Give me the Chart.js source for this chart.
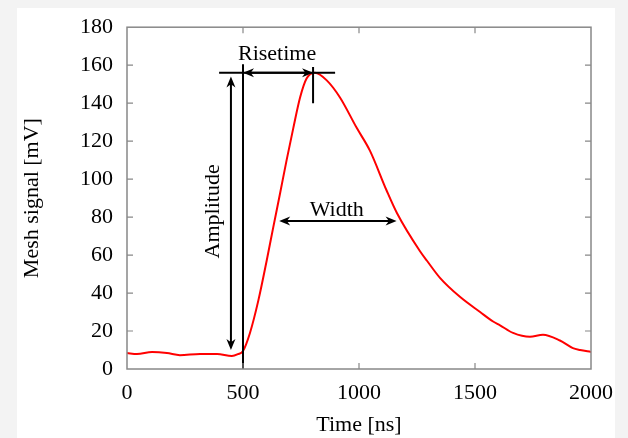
<!DOCTYPE html>
<html>
<head>
<meta charset="utf-8">
<script src="https://cdn.jsdelivr.net/npm/chart.js@4"></script>
<style>
  html, body { margin: 0; padding: 0; background: #fff; }
  #wrap { width: 628px; height: 438px; }
</style>
</head>
<body>
<div id="wrap"><canvas id="signalChart" width="628" height="438"></canvas></div>
<script>
// pulse
const timeNs = [0, 43, 108, 172, 228, 315, 388, 452, 478, 500, 530, 566, 602, 631, 659, 688, 717, 746, 774, 810, 861, 918, 990, 1047, 1119, 1164, 1263, 1293, 1349, 1435, 1522, 1578, 1608, 1664, 1737, 1793, 1866, 1922, 1953, 2000];
const signalMv = [8.4, 7.9, 8.9, 8.4, 7.3, 7.9, 7.9, 6.8, 7.8, 9.5, 19, 36, 57, 75, 92, 110, 127, 143, 153, 156, 152, 143, 127, 115, 94, 82, 62, 57, 48, 38, 30, 25, 23, 19, 17, 18, 15, 11, 10, 9];

const xTicks = [0, 500, 1000, 1500, 2000];
const yTicks = [0, 20, 40, 60, 80, 100, 120, 140, 160, 180];

// annotation geometry, in data units [ns, mV]
const startLine = [500, 0, 160.5];          // x, yFrom, yTo
const peakLine = [397, 897, 156];           // xFrom, xTo, y
const peakTick = [802, 159, 140];           // x, yFrom, yTo
const amplitudeArrow = [448, 10, 154];      // x, yFrom, yTo
const risetimeArrow = [500, 802, 156];      // xFrom, xTo, y
const widthArrow = [656, 1162, 78];         // xFrom, xTo, y
const labels = [
  { text: "Risetime", x: 647, y: 166, rot: 0 },
  { text: "Width", x: 904, y: 83.5, rot: 0 },
  { text: "Amplitude", x: 371, y: 83, rot: -Math.PI / 2 }
];

const serif = "'Liberation Serif', 'DejaVu Serif', serif";
const fontSize = 22;
const axisGrey = "#888";

function arrowHead(ctx, x, y, angle) {
  const len = 11, half = 4.5;
  ctx.save();
  ctx.translate(x, y);
  ctx.rotate(angle);
  ctx.beginPath();
  ctx.moveTo(0, 0);
  ctx.lineTo(-len, -half);
  ctx.lineTo(-len * 0.7, 0);
  ctx.lineTo(-len, half);
  ctx.closePath();
  ctx.fill();
  ctx.restore();
}

const framePlugin = {
  id: "frame",
  beforeDraw(chart) {
    const ctx = chart.ctx;
    ctx.save();
    ctx.fillStyle = "#f3f3f3";
    ctx.fillRect(0, 0, chart.width, chart.height);
    ctx.fillStyle = "#fff";
    ctx.fillRect(17, 8, 598, chart.height - 8);
    ctx.restore();
  },
  afterDraw(chart) {
    const ctx = chart.ctx;
    const a = chart.chartArea;
    const xs = chart.scales.x, ys = chart.scales.y;
    ctx.save();
    ctx.strokeStyle = axisGrey;
    ctx.lineWidth = 1.5;
    ctx.strokeRect(a.left, a.top, a.right - a.left, a.bottom - a.top);
    ctx.lineWidth = 1.2;
    ctx.beginPath();
    xTicks.slice(1, -1).forEach(v => {
      const px = xs.getPixelForValue(v);
      ctx.moveTo(px, a.bottom); ctx.lineTo(px, a.bottom - 6);
      ctx.moveTo(px, a.top); ctx.lineTo(px, a.top + 6);
    });
    yTicks.slice(1, -1).forEach(v => {
      const py = ys.getPixelForValue(v);
      ctx.moveTo(a.left, py); ctx.lineTo(a.left + 6, py);
      ctx.moveTo(a.right, py); ctx.lineTo(a.right - 6, py);
    });
    ctx.stroke();
    ctx.restore();
  }
};

const annotationPlugin = {
  id: "pulseNotes",
  afterDatasetsDraw(chart) {
    const ctx = chart.ctx;
    const xs = chart.scales.x, ys = chart.scales.y;
    const X = v => xs.getPixelForValue(v);
    const Y = v => ys.getPixelForValue(v);
    ctx.save();
    ctx.strokeStyle = "#000";
    ctx.fillStyle = "#000";
    ctx.lineWidth = 2;

    ctx.beginPath();
    ctx.moveTo(X(startLine[0]), Y(startLine[1]));
    ctx.lineTo(X(startLine[0]), Y(startLine[2]));
    ctx.moveTo(X(peakLine[0]), Y(peakLine[2]));
    ctx.lineTo(X(peakLine[1]), Y(peakLine[2]));
    ctx.moveTo(X(peakTick[0]), Y(peakTick[1]));
    ctx.lineTo(X(peakTick[0]), Y(peakTick[2]));
    ctx.stroke();

    // amplitude
    const ax = X(amplitudeArrow[0]);
    ctx.beginPath();
    ctx.moveTo(ax, Y(amplitudeArrow[1]) - 6);
    ctx.lineTo(ax, Y(amplitudeArrow[2]) + 6);
    ctx.stroke();
    arrowHead(ctx, ax, Y(amplitudeArrow[1]), Math.PI / 2);
    arrowHead(ctx, ax, Y(amplitudeArrow[2]), -Math.PI / 2);

    // risetime and width
    [risetimeArrow, widthArrow].forEach(r => {
      const x1 = X(r[0]), x2 = X(r[1]), y = Y(r[2]);
      ctx.beginPath();
      ctx.moveTo(x1 + 6, y);
      ctx.lineTo(x2 - 6, y);
      ctx.stroke();
      arrowHead(ctx, x1, y, Math.PI);
      arrowHead(ctx, x2, y, 0);
    });

    ctx.font = fontSize + "px " + serif;
    ctx.textAlign = "center";
    ctx.textBaseline = "middle";
    labels.forEach(l => {
      ctx.save();
      ctx.translate(X(l.x), Y(l.y));
      ctx.rotate(l.rot);
      ctx.fillText(l.text, 0, 0);
      ctx.restore();
    });
    ctx.restore();
  }
};

new Chart(document.getElementById("signalChart"), {
  type: "line",
  data: {
    datasets: [{
      data: timeNs.map((t, i) => ({ x: t, y: signalMv[i] })),
      borderColor: "#ff0000",
      borderWidth: 2,
      pointRadius: 0,
      fill: false,
      cubicInterpolationMode: "monotone"
    }]
  },
  options: {
    responsive: false,
    animation: false,
    events: [],
    layout: { padding: { left: 0, right: 37, top: 26, bottom: 0 } },
    plugins: { legend: { display: false }, tooltip: { enabled: false } },
    scales: {
      x: {
        type: "linear",
        min: 0,
        max: 2000,
        afterBuildTicks: s => { s.ticks = xTicks.map(v => ({ value: v })); },
        afterFit: s => { s.height = 69; },
        grid: { display: false, drawTicks: false },
        border: { display: false },
        ticks: { color: "#000", padding: 11, maxRotation: 0, callback: v => String(v), font: { family: serif, size: fontSize } },
        title: { display: true, text: "Time [ns]", color: "#000", padding: { top: 0, bottom: 0 }, font: { family: serif, size: fontSize } }
      },
      y: {
        min: 0,
        max: 180,
        afterBuildTicks: s => { s.ticks = yTicks.map(v => ({ value: v })); },
        afterFit: s => { s.width = 127; },
        grid: { display: false, drawTicks: false },
        border: { display: false },
        ticks: { color: "#000", padding: 14, callback: v => String(v), font: { family: serif, size: fontSize } },
        title: { display: true, text: "Mesh signal [mV]", color: "#000", padding: { top: 19, bottom: 0 }, font: { family: serif, size: fontSize } }
      }
    }
  },
  plugins: [framePlugin, annotationPlugin]
});
</script>
</body>
</html>
